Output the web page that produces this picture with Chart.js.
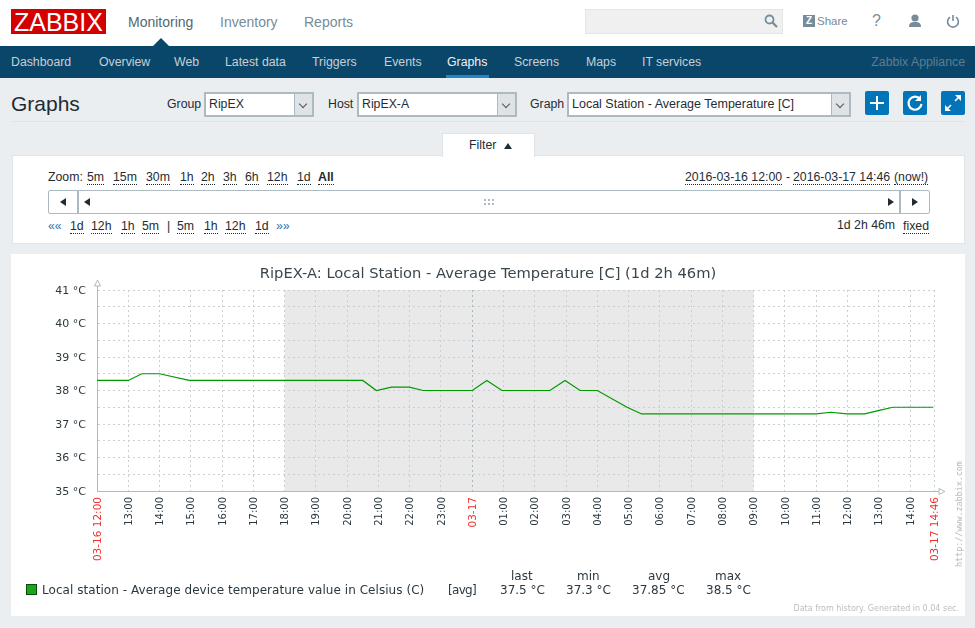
<!DOCTYPE html>
<html lang="en">
<head>
<meta charset="UTF-8" />
<title>Graphs</title>
<script src="https://cdn.jsdelivr.net/npm/chart.js"></script>
<style>
  html, body { margin: 0; padding: 0; }
  body {
    width: 975px; height: 628px; overflow: hidden; position: relative;
    background: #ebeef0; color: #1f2c33;
    font-family: "Liberation Sans", Arial, sans-serif; font-size: 12.3px;
  }
  .t { position: absolute; white-space: nowrap; transform: translateY(-50%); }
  .box { position: absolute; box-sizing: border-box; }
  .u { border-bottom: 1px dotted #1f2c33; line-height: 13px; margin-top: 1px; }
  .main { font-size: 14px; color: #768d99; }
  .sub { color: #c4d0d6; }
  .sel { background: #fff; border: 2px solid #acbbc2; height: 25px; top: 92px; }
  .sel i { position: absolute; right: 0; top: 0; bottom: 0; width: 17px; background: #dfe3e6; border-left: 1px solid #acbbc2; }
  .sel i:after { content: ""; position: absolute; left: 5px; top: 7px; width: 5px; height: 5px; border-right: 1px solid #555; border-bottom: 1px solid #555; transform: rotate(45deg); }
  .btn { background: #0275b8; border-radius: 2px; width: 24px; height: 24px; top: 91px; }
  .btn svg, .ico { position: absolute; }
  .tri { position: absolute; width: 0; height: 0; border-style: solid; border-color: transparent; }
  .g { font-family: "DejaVu Sans", sans-serif; color: #2b3840; font-size: 12px; }
</style>
</head>
<body>
  <!-- top bar -->
  <div class="box" style="left:0;top:0;width:975px;height:46px;background:#fff"></div>
  <div class="box" style="left:11px;top:9px;width:95px;height:25px;background:#d40000"></div>
  <div class="t" style="left:14px;top:22px;color:#fff;font-size:25px">ZABBIX</div>
  <div class="t main" style="left:128px;top:22px;color:#526872">Monitoring</div>
  <div class="t main" style="left:220px;top:22px">Inventory</div>
  <div class="t main" style="left:304px;top:22px">Reports</div>
  <div class="tri" style="left:153px;top:38px;border-width:0 8px 8px 8px;border-bottom-color:#0a466a"></div>
  <div class="box" style="left:585px;top:9px;width:198px;height:25px;background:#f0f0f0;border:1px solid #e5e5e5"></div>
  <svg class="ico" style="left:764px;top:14px" width="14" height="14" fill="none" stroke="#768d99" stroke-width="1.8"><circle cx="5.5" cy="5.5" r="4"/><path d="M8.5 8.5l4.5 4.5" stroke-width="2.2"/></svg>
  <div class="box" style="left:803px;top:15px;width:12px;height:12px;background:#768d99;color:#fff;font:bold 10px/12px 'Liberation Sans';text-align:center">Z</div>
  <div class="t" style="left:817px;top:21px;color:#768d99;font-size:11.5px">Share</div>
  <div class="t" style="left:872px;top:21px;color:#768d99;font-size:16px">?</div>
  <svg class="ico" style="left:908px;top:14px" width="14" height="14" fill="#768d99"><circle cx="7" cy="4" r="3.6"/><path d="M1 13c0-4 2-5 6-5s6 1 6 5z"/></svg>
  <svg class="ico" style="left:946px;top:14px" width="14" height="14" fill="none" stroke="#768d99" stroke-width="1.6"><path d="M4 3.2a5.4 5.4 0 1 0 6 0M7 1v6"/></svg>

  <!-- sub menu -->
  <div class="box" style="left:0;top:46px;width:975px;height:32px;background:#0a466a"></div>
  <div class="t sub" style="left:11px;top:62px">Dashboard</div>
  <div class="t sub" style="left:99px;top:62px">Overview</div>
  <div class="t sub" style="left:174px;top:62px">Web</div>
  <div class="t sub" style="left:225px;top:62px">Latest data</div>
  <div class="t sub" style="left:312px;top:62px">Triggers</div>
  <div class="t sub" style="left:384px;top:62px">Events</div>
  <div class="t sub" style="left:447px;top:62px;color:#f2f2f2">Graphs</div>
  <div class="box" style="left:446px;top:75px;width:43px;height:3px;background:#1f86c8"></div>
  <div class="t sub" style="left:514px;top:62px">Screens</div>
  <div class="t sub" style="left:586px;top:62px">Maps</div>
  <div class="t sub" style="left:642px;top:62px">IT services</div>
  <div class="t" style="right:10px;top:62px;color:#5d7d90">Zabbix Appliance</div>

  <!-- page header -->
  <div class="t" style="left:11px;top:104px;font-size:21px">Graphs</div>
  <div class="t" style="left:167px;top:104px">Group</div>
  <div class="box sel" style="left:204px;width:110px"><i></i></div>
  <div class="t" style="left:209px;top:104px">RipEX</div>
  <div class="t" style="left:328px;top:104px">Host</div>
  <div class="box sel" style="left:357px;width:160px"><i></i></div>
  <div class="t" style="left:362px;top:104px">RipEX-A</div>
  <div class="t" style="left:530px;top:104px">Graph</div>
  <div class="box sel" style="left:567px;width:284px"><i></i></div>
  <div class="t" style="left:572px;top:104px;font-size:12.5px">Local Station - Average Temperature [C]</div>
  <div class="box btn" style="left:865px"><svg width="24" height="24" stroke="#fff" stroke-width="2"><path d="M12 5v14M5 12h14"/></svg></div>
  <div class="box btn" style="left:903px"><svg width="24" height="24" fill="none" stroke="#fff" stroke-width="2.2"><path d="M17 8a6.5 6.5 0 1 0 1.5 5"/><path d="M18 4v6h-6" stroke="none" fill="#fff"/></svg></div>
  <div class="box btn" style="left:941px"><svg width="24" height="24" fill="#fff" stroke="#fff" stroke-width="1.6"><path d="M14 10l5-5M10 14l-5 5"/><path stroke="none" d="M14 4h6v6zM4 14v6h6z"/></svg></div>
  <div class="box" style="left:11px;top:121px;width:953px;height:1px;background:#dfe4e7"></div>

  <!-- filter -->
  <div class="box" style="left:12px;top:155px;width:953px;height:89px;background:#fff;border:1px solid #dfe4e7"></div>
  <div class="box" style="left:442px;top:133px;width:93px;height:24px;background:#fff;border:1px solid #dfe4e7;border-bottom:0"></div>
  <div class="t" style="left:469px;top:145px">Filter</div>
  <div class="tri" style="left:504px;top:143px;border-width:0 4px 6px 4px;border-bottom-color:#1f2c33"></div>

  <div class="t" style="left:48px;top:177px">Zoom:</div>
  <div class="t u" style="left:87px;top:177px">5m</div>
  <div class="t u" style="left:113px;top:177px">15m</div>
  <div class="t u" style="left:146px;top:177px">30m</div>
  <div class="t u" style="left:180px;top:177px">1h</div>
  <div class="t u" style="left:201px;top:177px">2h</div>
  <div class="t u" style="left:223px;top:177px">3h</div>
  <div class="t u" style="left:245px;top:177px">6h</div>
  <div class="t u" style="left:267px;top:177px">12h</div>
  <div class="t u" style="left:297px;top:177px">1d</div>
  <div class="t u" style="left:318px;top:177px;font-weight:bold">All</div>
  <div class="t u" style="left:685px;top:177px">2016-03-16 12:00</div>
  <div class="t" style="left:786px;top:177px">-</div>
  <div class="t u" style="left:793px;top:177px">2016-03-17 14:46</div>
  <div class="t u" style="left:894px;top:177px">(now!)</div>

  <div class="box" style="left:48px;top:190px;width:882px;height:24px;background:#fff;border:1px solid #acbbc2;border-radius:2px"></div>
  <div class="box" style="left:77px;top:190px;width:2px;height:24px;background:#acbbc2"></div>
  <div class="box" style="left:899px;top:190px;width:2px;height:24px;background:#acbbc2"></div>
  <div class="tri" style="left:60px;top:198px;border-width:4px 6px 4px 0;border-right-color:#1f2c33"></div>
  <div class="tri" style="left:84px;top:198px;border-width:4px 6px 4px 0;border-right-color:#1f2c33"></div>
  <div class="tri" style="left:888px;top:198px;border-width:4px 0 4px 6px;border-left-color:#1f2c33"></div>
  <div class="tri" style="left:912px;top:198px;border-width:4px 0 4px 6px;border-left-color:#1f2c33"></div>
  <svg class="ico" style="left:484px;top:199px" width="11" height="7" fill="#acbbc2"><rect x="0" y="0" width="2" height="2"/><rect x="4" y="0" width="2" height="2"/><rect x="8" y="0" width="2" height="2"/><rect x="0" y="4" width="2" height="2"/><rect x="4" y="4" width="2" height="2"/><rect x="8" y="4" width="2" height="2"/></svg>

  <div class="t" style="left:48px;top:226px;color:#2a6fa8">««</div>
  <div class="t u" style="left:70px;top:226px">1d</div>
  <div class="t u" style="left:91px;top:226px">12h</div>
  <div class="t u" style="left:121px;top:226px">1h</div>
  <div class="t u" style="left:142px;top:226px">5m</div>
  <div class="t" style="left:167px;top:226px">|</div>
  <div class="t u" style="left:177px;top:226px">5m</div>
  <div class="t u" style="left:204px;top:226px">1h</div>
  <div class="t u" style="left:225px;top:226px">12h</div>
  <div class="t u" style="left:255px;top:226px">1d</div>
  <div class="t" style="left:276px;top:226px;color:#2a6fa8">»»</div>
  <div class="t" style="left:837px;top:225px">1d 2h 46m</div>
  <div class="t u" style="left:903px;top:226px">fixed</div>

  <!-- graph panel -->
  <div class="box" style="left:11px;top:254px;width:954px;height:362px;background:#fff"></div>
  <div class="box" style="left:11px;top:254px;width:954px;height:362px"><canvas id="grafica"></canvas></div>

  <div class="box" style="left:26px;top:584px;width:11px;height:11px;background:#1aa51a;border:1px solid #0c4a0c"></div>
  <div class="t g" style="left:42px;top:590px;letter-spacing:.05px" id="leyenda"></div>
  <div class="t g" style="left:448px;top:590px;letter-spacing:-.7px">[avg]</div>
  <div class="t g" style="left:511px;top:576px">last</div>
  <div class="t g" style="left:577px;top:576px">min</div>
  <div class="t g" style="left:648px;top:576px">avg</div>
  <div class="t g" style="left:715px;top:576px">max</div>
  <div class="t g" style="left:500px;top:590px">37.5 °C</div>
  <div class="t g" style="left:566px;top:590px">37.3 °C</div>
  <div class="t g" style="left:632px;top:590px">37.85 °C</div>
  <div class="t g" style="left:706px;top:590px">38.5 °C</div>
  <div class="t g" style="right:16px;top:608px;font-size:8px;color:#bdbdbd">Data from history. Generated in 0.04 sec.</div>
  <div class="t" style="left:959px;top:514px;font:8.4px 'DejaVu Sans Mono',monospace;color:#b8b8b8;transform:translate(-50%,-50%) rotate(-90deg)">http://www.zabbix.com</div>

  <script>
    // minutes since 2016-03-16 12:00
    const tiempos = [0, 60, 86, 120, 177, 510, 536, 565, 599, 626, 720, 748, 777, 869, 898, 927, 960, 1017, 1045, 1380, 1408, 1439, 1473, 1499, 1527, 1604];
    const valores = [38.3, 38.3, 38.5, 38.5, 38.3, 38.3, 38.0, 38.1, 38.1, 38.0, 38.0, 38.3, 38.0, 38.0, 38.3, 38.0, 38.0, 37.5, 37.3, 37.3, 37.35, 37.3, 37.3, 37.4, 37.5, 37.5];

    const xTicks = [0, 60, 120, 180, 240, 300, 360, 420, 480, 540, 600, 660, 720, 780, 840, 900, 960, 1020, 1080, 1140, 1200, 1260, 1320, 1380, 1440, 1500, 1560, 1606];
    const xLabels = ['03-16 12:00', '13:00', '14:00', '15:00', '16:00', '17:00', '18:00', '19:00', '20:00', '21:00', '22:00', '23:00', '03-17', '01:00', '02:00', '03:00', '04:00', '05:00', '06:00', '07:00', '08:00', '09:00', '10:00', '11:00', '12:00', '13:00', '14:00', '03-17 14:46'];
    const yMin = 35, yMax = 41;
    const noche = [360, 1260]; // shaded 18:00 - 09:00
    const serie = 'Local station - Average device temperature value in Celsius (C)';
    const titulo = 'RipEX-A: Local Station - Average Temperature [C] (1d 2h 46m)';

    document.getElementById('leyenda').textContent = serie;

    const colorEje = '#acbbc2';
    const colorGrid = '#c6d0d5';

    function esFecha(i) {
      return (xLabels[i] || '').includes('-');
    }

    const fondo = {
      id: 'fondo',
      beforeDraw(chart) {
        const { ctx, chartArea: a, scales: { x } } = chart;
        ctx.save();
        ctx.fillStyle = '#e9e9e9';
        ctx.fillRect(x.getPixelForValue(noche[0]), a.top, x.getPixelForValue(noche[1]) - x.getPixelForValue(noche[0]), a.bottom - a.top);
        ctx.restore();
      },
      afterDraw(chart) {
        // axis arrows
        const { ctx, chartArea: a } = chart;
        ctx.save();
        ctx.strokeStyle = colorEje;
        ctx.fillStyle = '#fff';
        ctx.beginPath();
        ctx.moveTo(a.left + 0.5, a.top);
        ctx.lineTo(a.left + 0.5, a.top - 4);
        ctx.stroke();
        ctx.beginPath();
        ctx.moveTo(a.left + 0.5, a.top - 10);
        ctx.lineTo(a.left - 2.5, a.top - 4);
        ctx.lineTo(a.left + 3.5, a.top - 4);
        ctx.closePath();
        ctx.fill();
        ctx.stroke();
        const yb = a.bottom + 0.5;
        ctx.beginPath();
        ctx.moveTo(a.right, yb);
        ctx.lineTo(a.right + 5, yb);
        ctx.stroke();
        ctx.beginPath();
        ctx.moveTo(a.right + 11, yb);
        ctx.lineTo(a.right + 5, yb - 3);
        ctx.lineTo(a.right + 5, yb + 3);
        ctx.closePath();
        ctx.fill();
        ctx.stroke();
        ctx.restore();
      }
    };

    new Chart(document.getElementById('grafica'), {
      type: 'line',
      data: {
        datasets: [{
          label: serie,
          data: tiempos.map((t, i) => ({ x: t, y: valores[i] })),
          borderColor: '#009900',
          borderWidth: 1.2,
          pointRadius: 0,
          tension: 0,
          fill: false
        }]
      },
      options: {
        responsive: true,
        maintainAspectRatio: false,
        animation: false,
        plugins: {
          legend: { display: false },
          tooltip: { enabled: false },
          title: {
            display: true,
            text: titulo,
            color: '#3a464d',
            font: { family: 'DejaVu Sans', size: 14.7, weight: 'normal', lineHeight: 1.2 },
            padding: { top: 11, bottom: 7.36 }
          }
        },
        scales: {
          x: {
            type: 'linear',
            min: 0,
            max: 1606,
            afterBuildTicks(scale) { scale.ticks = xTicks.map(v => ({ value: v })); },
            afterFit(scale) { scale.height = 125; },
            border: { color: colorEje, width: 1, dash: [2, 3] },
            grid: {
              drawTicks: false,
              color: ctx => (ctx.tick && ctx.tick.value === 720 ? '#a9b8bf' : colorGrid)
            },
            ticks: {
              autoSkip: false,
              minRotation: 90,
              maxRotation: 90,
              padding: 6,
              labelOffset: 1,
              callback: (v, i) => xLabels[i],
              color: ctx => (esFecha(ctx.index) ? '#f03030' : '#2b3840'),
              font: ctx => ({ family: 'DejaVu Sans', size: esFecha(ctx.index) ? 10.5 : 10 })
            }
          },
          y: {
            min: yMin,
            max: yMax,
            afterFit(scale) { scale.width = 86; },
            border: { color: colorEje, width: 1, dash: [2, 3] },
            grid: { drawTicks: false, color: colorGrid },
            ticks: {
              stepSize: 0.5,
              autoSkip: false,
              padding: 11,
              labelOffset: 1,
              color: '#2b3840',
              font: { family: 'DejaVu Sans', size: 11 },
              callback: v => (Number.isInteger(v) ? v + ' °C' : '')
            }
          },
          // empty axis, only keeps the right margin so the title stays centred on the panel
          margen: {
            position: 'right',
            afterFit(scale) { scale.width = 31; },
            border: { display: false },
            grid: { display: false },
            ticks: { display: false }
          }
        }
      },
      plugins: [fondo]
    });
  </script>
</body>
</html>
